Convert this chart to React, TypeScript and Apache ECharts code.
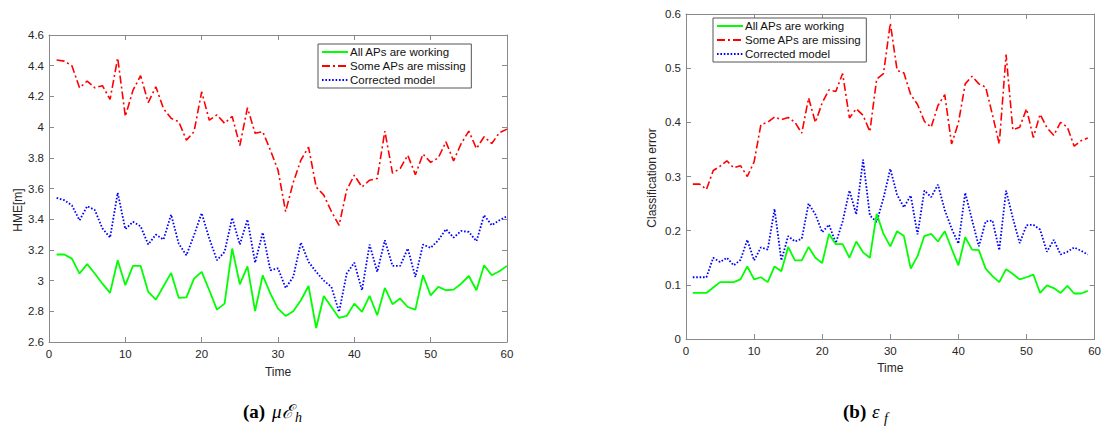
import React, { useEffect, useRef } from "react";
import * as echarts from "echarts";

const SERIES_NAMES = ["All APs are working", "Some APs are missing", "Corrected model"];

const TIME_A = [1,2,3,4,5,6,7,8,9,10,11,12,13,14,15,16,17,18,19,20,21,22,23,24,25,26,27,28,29,30,31,32,33,34,35,36,37,38,39,40,41,42,43,44,45,46,47,48,49,50,51,52,53,54,55,56,57,58,59,60];
const HME_WORKING = [3.17,3.17,3.143,3.046,3.107,3.046,2.98,2.92,3.133,2.97,3.096,3.096,2.926,2.876,2.963,3.05,2.887,2.891,3.013,3.057,2.937,2.811,2.85,3.209,2.976,3.093,2.802,3.035,2.915,2.817,2.77,2.8,2.872,2.965,2.691,2.9,2.828,2.757,2.77,2.85,2.796,2.9,2.774,2.952,2.846,2.883,2.828,2.811,3.035,2.904,2.959,2.937,2.941,2.98,3.03,2.937,3.1,3.035,3.061,3.096];
const HME_MISSING = [4.437,4.43,4.4,4.256,4.3,4.256,4.27,4.18,4.45,4.07,4.24,4.335,4.16,4.263,4.12,4.057,4.035,3.915,3.97,4.23,4.045,4.08,4.025,4.07,3.88,4.126,3.96,3.97,3.85,3.72,3.45,3.64,3.785,3.87,3.61,3.557,3.45,3.36,3.59,3.687,3.61,3.654,3.665,3.974,3.7,3.73,3.817,3.69,3.824,3.77,3.8,3.904,3.78,3.893,3.974,3.86,3.937,3.893,3.963,3.987];
const HME_CORRECTED = [3.539,3.524,3.49,3.393,3.485,3.46,3.34,3.28,3.572,3.335,3.383,3.354,3.235,3.3,3.267,3.43,3.24,3.165,3.296,3.44,3.274,3.133,3.187,3.409,3.235,3.398,3.117,3.313,3.067,3.08,2.952,3.024,3.248,3.122,3.057,3.0,2.959,2.796,3.046,3.117,2.937,3.235,3.057,3.263,3.096,3.096,3.209,3.024,3.235,3.213,3.263,3.335,3.28,3.324,3.317,3.257,3.426,3.361,3.393,3.42];

const TIME_B = [1,2,3,4,5,6,7,8,9,10,11,12,13,14,15,16,17,18,19,20,21,22,23,24,25,26,27,28,29,30,31,32,33,34,35,36,37,38,39,40,41,42,43,44,45,46,47,48,49,50,51,52,53,54,55,56,57,58,59];
const ERR_WORKING = [0.085,0.085,0.085,0.095,0.105,0.105,0.105,0.11,0.134,0.11,0.114,0.105,0.134,0.125,0.17,0.145,0.145,0.17,0.15,0.14,0.194,0.175,0.175,0.15,0.18,0.16,0.15,0.231,0.194,0.171,0.199,0.19,0.13,0.153,0.19,0.194,0.18,0.199,0.167,0.136,0.188,0.165,0.164,0.13,0.116,0.105,0.129,0.12,0.11,0.114,0.119,0.085,0.099,0.094,0.085,0.098,0.084,0.084,0.089];
const ERR_MISSING = [0.286,0.286,0.276,0.311,0.319,0.329,0.316,0.32,0.3,0.327,0.396,0.4,0.41,0.405,0.409,0.4,0.38,0.445,0.4,0.436,0.46,0.457,0.49,0.408,0.425,0.413,0.383,0.48,0.49,0.583,0.496,0.491,0.451,0.433,0.402,0.391,0.431,0.451,0.36,0.399,0.471,0.485,0.471,0.465,0.414,0.36,0.525,0.386,0.391,0.425,0.372,0.415,0.39,0.376,0.4,0.391,0.356,0.366,0.371];
const ERR_CORRECTED = [0.114,0.114,0.114,0.15,0.142,0.15,0.136,0.146,0.183,0.145,0.169,0.165,0.24,0.145,0.19,0.18,0.185,0.25,0.23,0.197,0.211,0.177,0.217,0.274,0.23,0.331,0.228,0.216,0.26,0.314,0.266,0.243,0.265,0.193,0.274,0.262,0.285,0.238,0.204,0.176,0.27,0.22,0.171,0.217,0.219,0.164,0.274,0.223,0.177,0.21,0.211,0.202,0.161,0.183,0.156,0.161,0.169,0.163,0.156];

const X_TICKS = { min: 0, max: 60, interval: 10 };
const HME_TICKS = { min: 2.6, max: 4.6, interval: 0.2 };
const ERR_TICKS = { min: 0, max: 0.6, interval: 0.1 };

const COLORS = ["#00ff00", "#ff0000", "#0000ff"];
const LINE_TYPES: any[] = ["solid", [8, 3, 2, 3], [1.6, 1.8]];
const LINE_WIDTHS = [1.8, 1.6, 1.8];

const FONT = "Liberation Sans, Arial, Helvetica, sans-serif";
const AXIS_COLOR = "#8a8a8a";
const LABEL_COLOR = "#262626";

function pairs(xs: number[], ys: number[]) {
  return xs.map((x, i) => [x, ys[i]]);
}

const fmt = (v: number) => String(parseFloat(v.toFixed(2)));

function axisPair(gridIndex: number, ticks: any, isX: boolean, labelMargin: number) {
  const base = {
    gridIndex,
    type: "value",
    min: ticks.min,
    max: ticks.max,
    interval: ticks.interval,
    splitLine: { show: false },
    axisLine: { show: true, onZero: false, lineStyle: { color: AXIS_COLOR, width: 1 } },
    axisTick: { show: true, inside: true, length: 5, lineStyle: { color: AXIS_COLOR, width: 1 } },
  };
  return [
    {
      ...base,
      position: isX ? "bottom" : "left",
      axisLabel: {
        show: true,
        color: LABEL_COLOR,
        fontFamily: FONT,
        fontSize: 11.5,
        margin: labelMargin,
        formatter: (v: number) => fmt(v),
      },
    },
    {
      ...base,
      position: isX ? "top" : "right",
      axisLabel: { show: false },
    },
  ];
}

function lineSeries(idx: number, xAxisIndex: number, yAxisIndex: number, data: number[][]) {
  return {
    name: SERIES_NAMES[idx],
    type: "line",
    xAxisIndex,
    yAxisIndex,
    data,
    showSymbol: false,
    symbol: "none",
    color: COLORS[idx],
    lineStyle: { color: COLORS[idx], width: LINE_WIDTHS[idx], type: LINE_TYPES[idx] },
    z: 3 - idx,
  };
}

function legendAt(left: number, top: number) {
  return {
    orient: "vertical",
    left,
    top,
    data: SERIES_NAMES,
    selectedMode: false,
    itemWidth: 26,
    itemHeight: 12,
    itemGap: 2,
    padding: [2, 5, 2, 3],
    borderColor: "#555",
    borderWidth: 1,
    backgroundColor: "#fff",
    itemStyle: { opacity: 0, borderWidth: 0 },
    textStyle: { fontFamily: FONT, fontSize: 11.5, color: "#111", padding: [0, 0, 0, -3] },
  };
}

export default function App() {
  const ref = useRef<HTMLDivElement>(null);
  useEffect(() => {
    if (!ref.current) return;
    const chart = echarts.init(ref.current, null, { renderer: "svg" });
    const xA = axisPair(0, X_TICKS, true, 6);
    const yA = axisPair(0, HME_TICKS, false, 5);
    const xB = axisPair(1, X_TICKS, true, 6);
    const yB = axisPair(1, ERR_TICKS, false, 5);
    const capFont = "Liberation Serif, Times New Roman, serif";
    chart.setOption({
      animation: false,
      backgroundColor: "#fff",
      grid: [
        { left: 49, top: 35, width: 458, height: 307 },
        { left: 686, top: 14, width: 410, height: 325 },
      ],
      xAxis: [
        { ...xA[0], name: "Time", nameLocation: "middle", nameGap: 24, nameTextStyle: { fontFamily: FONT, fontSize: 12, color: LABEL_COLOR } },
        xA[1],
        { ...xB[0], name: "Time", nameLocation: "middle", nameGap: 22, nameTextStyle: { fontFamily: FONT, fontSize: 12, color: LABEL_COLOR } },
        xB[1],
      ],
      yAxis: [yA[0], yA[1], yB[0], yB[1]],
      legend: [legendAt(318, 44), legendAt(713, 18)],
      series: [
        lineSeries(0, 0, 0, pairs(TIME_A, HME_WORKING)),
        lineSeries(1, 0, 0, pairs(TIME_A, HME_MISSING)),
        lineSeries(2, 0, 0, pairs(TIME_A, HME_CORRECTED)),
        lineSeries(0, 2, 2, pairs(TIME_B, ERR_WORKING)),
        lineSeries(1, 2, 2, pairs(TIME_B, ERR_MISSING)),
        lineSeries(2, 2, 2, pairs(TIME_B, ERR_CORRECTED)),
      ],
      graphic: [
        { type: "text", x: 18, y: 210, rotation: Math.PI / 2, style: { text: "HME[m]", font: `12px ${FONT}`, fill: LABEL_COLOR, align: "center", verticalAlign: "middle" } },
        { type: "text", x: 652, y: 178, rotation: Math.PI / 2, style: { text: "Classification error", font: `12px ${FONT}`, fill: LABEL_COLOR, align: "center", verticalAlign: "middle" } },
        { type: "text", x: 243, y: 411, style: { text: "(a)", font: `bold 19px ${capFont}`, fill: "#000", align: "left", verticalAlign: "middle" } },
        { type: "text", x: 272, y: 411, style: { text: "μℰ", font: `italic 19px ${capFont}`, fill: "#000", align: "left", verticalAlign: "middle" } },
        { type: "text", x: 295, y: 417, style: { text: "h", font: `italic 14px ${capFont}`, fill: "#000", align: "left", verticalAlign: "middle" } },
        { type: "text", x: 843, y: 411, style: { text: "(b)", font: `bold 19px ${capFont}`, fill: "#000", align: "left", verticalAlign: "middle" } },
        { type: "text", x: 872, y: 411, style: { text: "ε", font: `italic 19px ${capFont}`, fill: "#000", align: "left", verticalAlign: "middle" } },
        { type: "text", x: 884, y: 418, style: { text: "f", font: `italic 14px ${capFont}`, fill: "#000", align: "left", verticalAlign: "middle" } },
      ],
    });
    return () => chart.dispose();
  }, []);
  return (
    <div
      ref={ref}
      style={{ position: "fixed", left: 0, top: 0, width: 1104, height: 427, background: "#fff" }}
    />
  );
}
